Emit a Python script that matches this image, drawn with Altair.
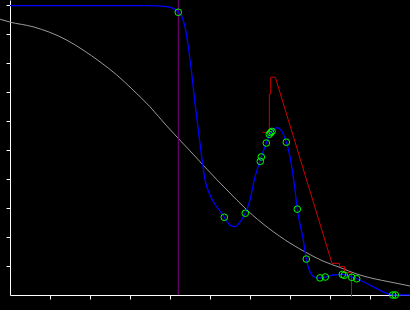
import altair as alt
import pandas as pd

# Smooth fitted curve (blue)
fit_x = [0.0, 3.5, 3.875, 4.125, 4.2075, 4.2925, 4.375, 4.4575, 4.5425, 4.625, 4.7075,
         4.7925, 4.875, 5.0, 5.125, 5.25, 5.3575, 5.5, 5.625, 5.75, 5.8825, 6.0, 6.1075,
         6.2825, 6.4075, 6.525, 6.6825, 6.9075, 7.0, 7.125, 7.1825, 7.3325, 7.4075, 7.5,
         7.625, 7.75, 7.8825, 8.0825, 8.3075, 8.4575, 8.6675, 9.0, 9.3325, 9.5675, 10.0]
fit_y = [0.998, 0.998, 0.9955, 0.986, 0.975, 0.960, 0.925, 0.856, 0.764, 0.661, 0.569,
         0.477, 0.397, 0.345, 0.312, 0.290, 0.268, 0.241, 0.236, 0.252, 0.282, 0.328, 0.397,
         0.476, 0.524, 0.561, 0.577, 0.527, 0.477, 0.362, 0.296, 0.190, 0.124, 0.080,
         0.061, 0.059, 0.062, 0.069, 0.071, 0.066, 0.056, 0.034, 0.011, 0.0, 0.0]

# Observed points (green circles)
obs_x = [4.2075, 5.3575, 5.8825, 6.2575, 6.2825, 6.4075, 6.4825, 6.5175, 6.55, 6.9075,
         7.1825, 7.4075, 7.75, 7.8825, 8.3075, 8.3575, 8.5425, 8.6675, 9.5675, 9.6325]
obs_y = [0.975, 0.268, 0.282, 0.461, 0.476, 0.524, 0.554, 0.560, 0.564, 0.527,
         0.296, 0.124, 0.059, 0.062, 0.071, 0.068, 0.061, 0.056, 0.0, 0.0]

# Step / trend line (red)
red_x = [6.3075, 6.4825, 6.4825, 6.5175, 6.5175, 6.6325, 8.05, 8.2375, 8.2375,
         8.3625, 8.3625, 8.5375, 8.5375]
red_y = [0.561, 0.561, 0.693, 0.693, 0.751, 0.751, 0.109, 0.109, 0.098,
         0.098, 0.079, 0.076, -0.007]

# Reference curve (grey)
ref_x = [-0.25, 0.0, 0.575, 1.4175, 1.825, 2.25, 2.6675, 3.075, 3.5, 3.9175, 4.2075,
         4.575, 4.875, 5.175, 5.425, 5.925, 7.0, 7.425, 7.825, 8.25, 8.675, 9.075, 9.5, 10.0]
ref_y = [0.951, 0.941, 0.925, 0.879, 0.845, 0.804, 0.759, 0.707, 0.649, 0.583, 0.540,
         0.486, 0.441, 0.397, 0.362, 0.293, 0.179, 0.145, 0.117, 0.095, 0.072, 0.057, 0.045, 0.031]

# Vertical marker (purple)
marker_x = [4.2075]

x_ticks = [1, 2, 3, 4, 5, 6, 7, 8, 9, 10]
y_ticks = [0.1, 0.2, 0.3, 0.4, 0.5, 0.6, 0.7, 0.8, 0.9, 1.0]

fit_df = pd.DataFrame({"x": fit_x, "y": fit_y})
obs_df = pd.DataFrame({"x": obs_x, "y": obs_y})
red_df = pd.DataFrame({"x": red_x, "y": red_y, "i": list(range(len(red_x)))})
ref_df = pd.DataFrame({"x": ref_x, "y": ref_y})
mk_df = pd.DataFrame({"x": marker_x})

xs = alt.Scale(domain=[0, 10], nice=False, zero=False)
ys = alt.Scale(domain=[0, 295 / 290], nice=False, zero=False)
xax = alt.Axis(values=x_ticks, labels=False, grid=False, tickSize=4, title="")
yax = alt.Axis(values=y_ticks, labels=False, grid=False, tickSize=4, title="")

X = alt.X("x:Q", scale=xs, axis=xax)
Y = alt.Y("y:Q", scale=ys, axis=yax)

grey = alt.Chart(ref_df).mark_line(color="#999999", strokeWidth=1, interpolate="monotone").encode(x=X, y=Y)
purple = alt.Chart(mk_df).mark_rule(color="#800080", strokeWidth=1).encode(x=X)
red = alt.Chart(red_df).mark_line(color="#cc0000", strokeWidth=1).encode(x=X, y=Y, order="i:Q")
blue = alt.Chart(fit_df).mark_line(color="#0000ff", strokeWidth=1.3, interpolate="monotone").encode(x=X, y=Y)
pts = alt.Chart(obs_df).mark_point(shape="circle", color="#00ff00", size=44, strokeWidth=1, filled=False, opacity=1).encode(x=X, y=Y)

chart = alt.layer(grey, purple, red, blue, pts).properties(
    width=400, height=295, autosize="none",
    padding={"left": 10, "top": 0, "right": 0, "bottom": 15},
    background="black",
).configure_view(strokeWidth=0).configure_axis(
    domainColor="white", tickColor="white", domainWidth=1, tickWidth=1
)

chart.save("out.html", embed_options={"renderer": "svg", "actions": False})
